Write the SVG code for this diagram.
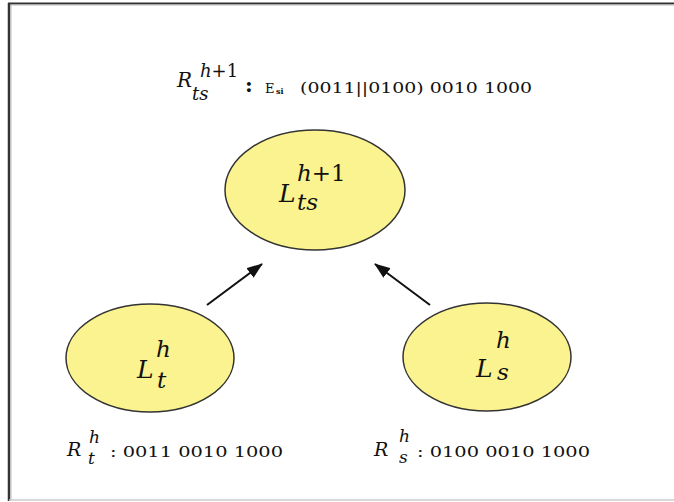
<svg xmlns="http://www.w3.org/2000/svg" width="674" height="502" viewBox="0 0 674 502">
<defs>
<style>
.node{fill:#FAF38F;stroke:#333;stroke-width:1.5}
.m{font-family:"DejaVu Serif","Liberation Serif",serif;font-style:italic;fill:#111}
.t{font-family:"DejaVu Serif","Liberation Serif",serif;fill:#111}
.conn{stroke:#111;stroke-width:2;fill:none;marker-end:url(#ah)}
</style>
<marker id="ah" viewBox="0 0 16 12" refX="15" refY="6" markerWidth="16" markerHeight="12" markerUnits="userSpaceOnUse" orient="auto">
<path d="M0,0 L16,6 L0,12 z" fill="#111"/>
</marker>
</defs>
<rect width="674" height="502" fill="#fff"/>
<g id="frame">
<line x1="8" y1="3.5" x2="674" y2="3.5" stroke="#333" stroke-width="2"/>
<line x1="8" y1="5" x2="674" y2="5" stroke="#bbb" stroke-width="1"/>
<line x1="9" y1="3" x2="9" y2="501" stroke="#333" stroke-width="2.5"/>
<line x1="11" y1="5" x2="11" y2="500" stroke="#bbb" stroke-width="1"/>
<line x1="9" y1="500" x2="674" y2="500" stroke="#ccc" stroke-width="1.5"/>
</g>
<g id="connectors">
<line class="conn" x1="207" y1="305" x2="262" y2="264"/>
<line class="conn" x1="430" y1="305" x2="375" y2="264"/>
</g>
<g id="node-Lts">
<ellipse class="node" cx="315" cy="190" rx="90" ry="60"/>
<text class="m" x="279" y="202" font-size="25">L</text>
<text class="m" x="297" y="181" font-size="23">h<tspan font-style="normal">+1</tspan></text>
<text class="m" x="297" y="210" font-size="23">ts</text>
</g>
<g id="node-Lt">
<ellipse class="node" cx="150" cy="358" rx="84" ry="54"/>
<text class="m" x="137" y="378" font-size="25">L</text>
<text class="m" x="156" y="357" font-size="23">h</text>
<text class="m" x="157" y="388" font-size="23">t</text>
</g>
<g id="node-Ls">
<ellipse class="node" cx="487" cy="357" rx="84" ry="54"/>
<text class="m" x="476" y="377" font-size="25">L</text>
<text class="m" x="496" y="348" font-size="23">h</text>
<text class="m" x="497" y="380" font-size="23">s</text>
</g>
<g id="label-top">
<text class="m" x="177" y="87" font-size="20">R</text>
<text class="m" x="200" y="77" font-size="18">h<tspan font-style="normal">+1</tspan></text>
<text class="m" x="192" y="100" font-size="18">ts</text>
<text class="t" x="245" y="92" font-size="21" font-weight="bold">:</text>
<text class="t" x="265" y="93" font-size="13">E</text>
<text class="t" x="276" y="94" font-size="8" font-weight="bold">si</text>
<text class="t" x="300" y="93" font-size="15" textLength="232" lengthAdjust="spacingAndGlyphs">(0011||0100) 0010 1000</text>
</g>
<g id="label-left">
<text class="m" x="67" y="456" font-size="19">R</text>
<text class="m" x="89" y="443" font-size="17">h</text>
<text class="m" x="88" y="464" font-size="17">t</text>
<text class="t" x="110" y="457" font-size="15" textLength="173" lengthAdjust="spacingAndGlyphs">: 0011 0010 1000</text>
</g>
<g id="label-right">
<text class="m" x="374" y="456" font-size="19">R</text>
<text class="m" x="399" y="442" font-size="17">h</text>
<text class="m" x="399" y="463" font-size="17">s</text>
<text class="t" x="417" y="457" font-size="15" textLength="173" lengthAdjust="spacingAndGlyphs">: 0100 0010 1000</text>
</g>
</svg>
